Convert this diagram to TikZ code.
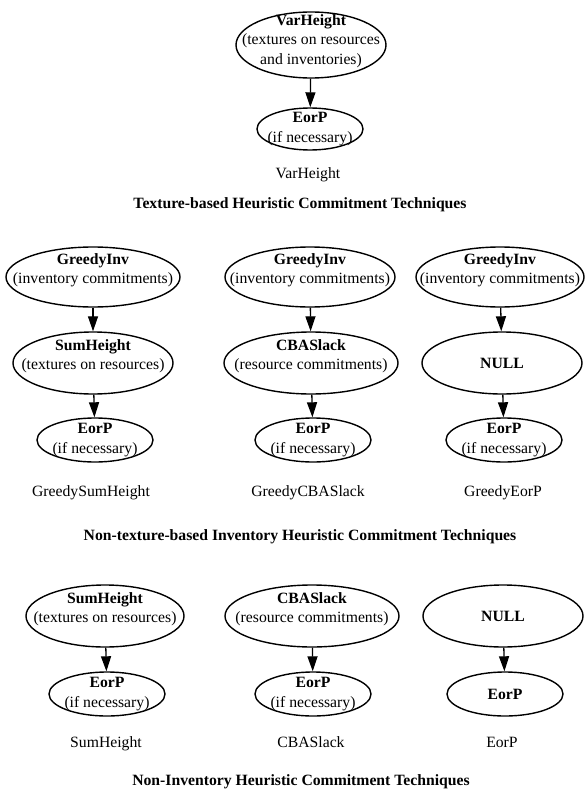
\documentclass[tikz,border=0pt]{standalone}
\usepackage{fontspec}
\setmainfont{Liberation Serif}
\usetikzlibrary{shapes.geometric,arrows.meta}
\begin{document}
\begin{tikzpicture}[x=1pt,y=-1pt,
  every node/.style={font=\fontsize{15.7}{19.5}\selectfont},
  ell/.style={ellipse, draw, line width=1.4pt, inner sep=0pt},
  txt/.style={align=center, inner sep=0pt},
  arr/.style={line width=1.3pt, -{Triangle[width=10pt,length=15pt]}},
  captxt/.style={anchor=base, inner sep=0pt},
  ttl/.style={anchor=base, inner sep=0pt, font=\fontsize{15.7}{19.5}\selectfont\bfseries}]
\useasboundingbox (0,0) rectangle (585,789);

% Row 1
\node[ell, minimum width=150pt, minimum height=66pt,
  label={[txt,yshift=4pt]center:{\textbf{VarHeight}\\(textures on resources\\and inventories)}}] (vh) at (311,45) {};
\node[ell, minimum width=106pt, minimum height=42pt,
  label={[txt]center:{\textbf{EorP}\\(if necessary)}}] (ve) at (310,129) {};
\draw[arr] (vh) -- (ve);
\node[captxt] (c1) at (308,178) {VarHeight};
\node[ttl] (t1) at (300,208) {Texture-based Heuristic Commitment Techniques};

% Row 2, column 1
\node[ell, minimum width=174pt, minimum height=60pt,
  label={[txt,yshift=7pt]center:{\textbf{GreedyInv}\\(inventory commitments)}}] (g1) at (93,277) {};
\node[ell, minimum width=160pt, minimum height=62pt,
  label={[txt,yshift=7pt]center:{\textbf{SumHeight}\\(textures on resources)}}] (s1) at (93,363) {};
\node[ell, minimum width=116pt, minimum height=44pt,
  label={[txt]center:{\textbf{EorP}\\(if necessary)}}] (e1) at (95,440) {};
\draw[arr] (g1) -- (s1);
\draw[arr] (s1) -- (e1);
\node[captxt] (c2) at (91,496) {GreedySumHeight};

% Row 2, column 2
\node[ell, minimum width=170pt, minimum height=60pt,
  label={[txt,yshift=7pt]center:{\textbf{GreedyInv}\\(inventory commitments)}}] (g2) at (310,277) {};
\node[ell, minimum width=174pt, minimum height=62pt,
  label={[txt,yshift=7pt]center:{\textbf{CBASlack}\\(resource commitments)}}] (cb2) at (311,363) {};
\node[ell, minimum width=116pt, minimum height=44pt,
  label={[txt]center:{\textbf{EorP}\\(if necessary)}}] (e2) at (313,440) {};
\draw[arr] (g2) -- (cb2);
\draw[arr] (cb2) -- (e2);
\node[captxt] (c3) at (308,496) {GreedyCBASlack};

% Row 2, column 3
\node[ell, minimum width=168pt, minimum height=60pt,
  label={[txt,yshift=7pt]center:{\textbf{GreedyInv}\\(inventory commitments)}}] (g3) at (500,277) {};
\node[ell, minimum width=160pt, minimum height=62pt,
  label={[txt]center:{\textbf{NULL}}}] (n3) at (502,363) {};
\node[ell, minimum width=116pt, minimum height=44pt,
  label={[txt]center:{\textbf{EorP}\\(if necessary)}}] (e3) at (504,440) {};
\draw[arr] (g3) -- (n3);
\draw[arr] (n3) -- (e3);
\node[captxt] (c4) at (503,496) {GreedyEorP};

\node[ttl] (t2) at (300,540) {Non-texture-based Inventory Heuristic Commitment Techniques};

% Row 3
\node[ell, minimum width=158pt, minimum height=62pt,
  label={[txt,yshift=7pt]center:{\textbf{SumHeight}\\(textures on resources)}}] (s4) at (105,616) {};
\node[ell, minimum width=116pt, minimum height=44pt,
  label={[txt]center:{\textbf{EorP}\\(if necessary)}}] (e4) at (107,694) {};
\draw[arr] (s4) -- (e4);
\node[captxt] (c5) at (106,747) {SumHeight};

\node[ell, minimum width=174pt, minimum height=62pt,
  label={[txt,yshift=7pt]center:{\textbf{CBASlack}\\(resource commitments)}}] (cb5) at (312,616) {};
\node[ell, minimum width=116pt, minimum height=44pt,
  label={[txt]center:{\textbf{EorP}\\(if necessary)}}] (e5) at (313,694) {};
\draw[arr] (cb5) -- (e5);
\node[captxt] (c6) at (311,747) {CBASlack};

\node[ell, minimum width=160pt, minimum height=62pt,
  label={[txt]center:{\textbf{NULL}}}] (n6) at (503,616) {};
\node[ell, minimum width=116pt, minimum height=44pt,
  label={[txt]center:{\textbf{EorP}}}] (e6) at (505,694) {};
\draw[arr] (n6) -- (e6);
\node[captxt] (c7) at (502,747) {EorP};

\node[ttl] (t3) at (301,785) {Non-Inventory Heuristic Commitment Techniques};
\end{tikzpicture}
\end{document}
